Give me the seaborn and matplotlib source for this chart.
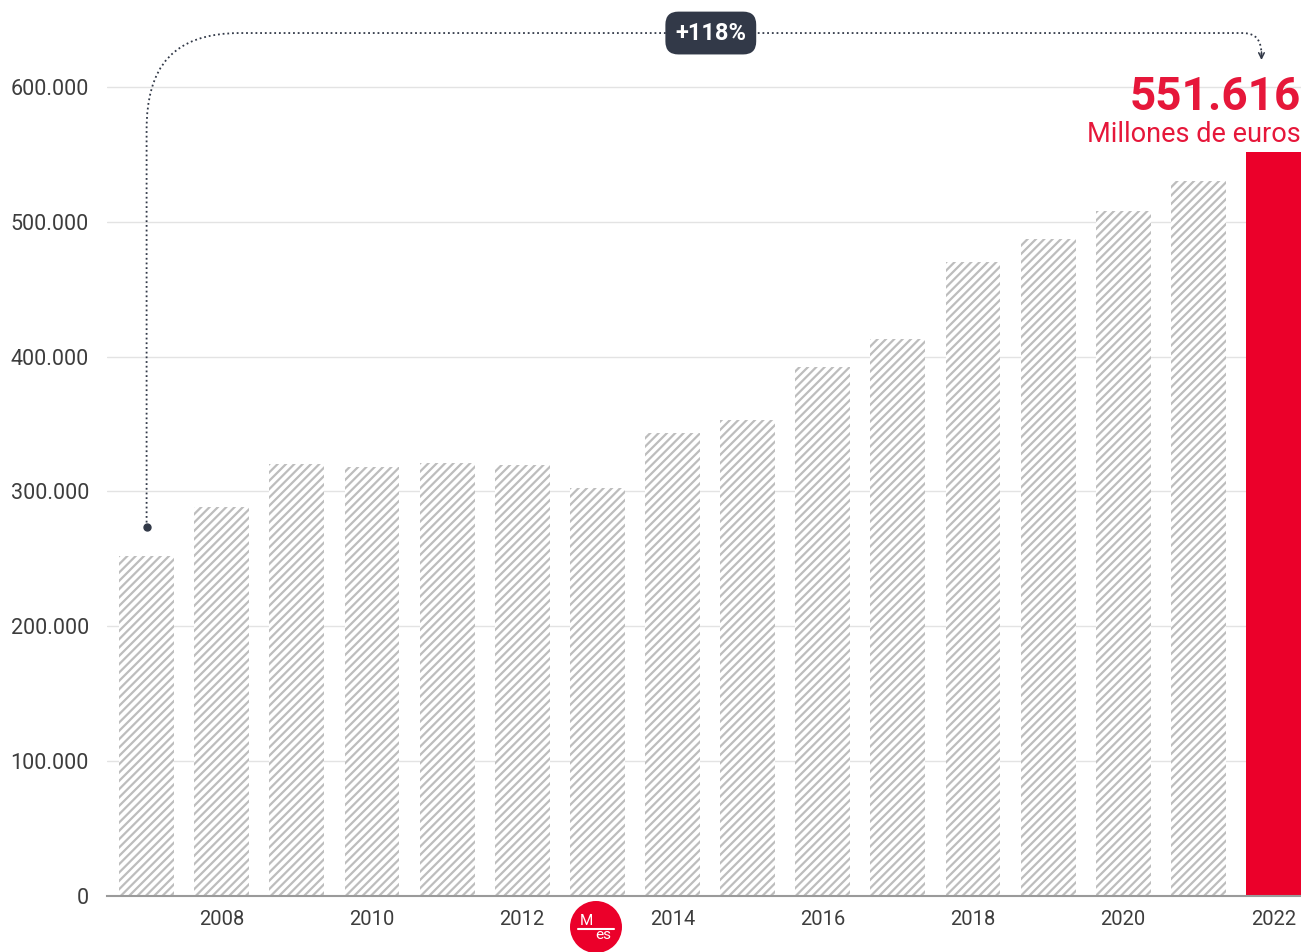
import numpy as np
import pandas as pd
import matplotlib
matplotlib.use("Agg")
import matplotlib.pyplot as plt
import seaborn as sns
from matplotlib.path import Path
from matplotlib.patches import PathPatch, Circle

# datos (millones de euros)
years = [str(y) for y in range(2007, 2023)]
values = [252000, 288500, 320500, 318500, 321000, 319800, 302800, 343500,
          353200, 392500, 413300, 470400, 487500, 508300, 530400, 551616]
yticks = [0, 100000, 200000, 300000, 400000, 500000, 600000]
growth_label = "+118%"
total_label = "551.616"
unit_label = "Millones de euros"

red = "#eb002a"
red_txt = "#e6173a"
dark = "#323948"
gray_hatch = "#bdbdbd"

sns.set_theme(style="white")
plt.rcParams['font.family'] = ['Roboto', 'DejaVu Sans']
plt.rcParams['hatch.linewidth'] = 1.6

df = pd.DataFrame({'year': years, 'value': values})

fig = plt.figure(figsize=(13.01, 9.52), dpi=100)
ax = fig.add_axes([107 / 1301, 56 / 952, 1194 / 1301, 896 / 952])

sns.barplot(data=df, x='year', y='value', order=years, color='white',
            width=0.73, edgecolor=gray_hatch, linewidth=0, saturation=1, ax=ax, zorder=2)
for i, p in enumerate(ax.patches):
    if i == len(years) - 1:
        p.set_facecolor(red)
        p.set_edgecolor(red)
        p.set_hatch(None)
    else:
        p.set_facecolor('white')
        p.set_hatch('////')

ax.set_xlim(-0.527, 15.366)
ax.set_ylim(0, 664500)
ax.set_xlabel('')
ax.set_ylabel('')

ax.set_yticks(yticks)
ax.set_yticklabels([f"{v:,.0f}".replace(',', '.') for v in yticks])
ax.set_xticks(range(1, len(years), 2))
ax.set_xticklabels(years[1::2])
ax.tick_params(axis='y', length=0, pad=13, labelsize=15.5, labelcolor='#3d3d3d')
ax.tick_params(axis='x', length=0, pad=10, labelsize=14.5, labelcolor='#3d3d3d')

for v in yticks[1:]:
    ax.axhline(v, color='#e3e3e3', lw=1, zorder=0)

for s in ['top', 'right', 'left']:
    ax.spines[s].set_visible(False)
ax.spines['bottom'].set_color('#9a9a9a')
ax.spines['bottom'].set_linewidth(1.5)
ax.spines['bottom'].set_zorder(3)

# flecha de crecimiento
y_start = values[0] + 21500
y_top = 640000
y_bend = 568000
x_end = len(years) - 1 - 0.16
verts = [(0, y_start), (0, y_bend),
         (0, 615000), (0.35, y_top), (1.25, y_top),
         (x_end - 0.25, y_top),
         (x_end - 0.08, y_top), (x_end, 635000), (x_end, 624000)]
codes = [Path.MOVETO, Path.LINETO,
         Path.CURVE4, Path.CURVE4, Path.CURVE4,
         Path.LINETO,
         Path.CURVE4, Path.CURVE4, Path.CURVE4]
ax.add_patch(PathPatch(Path(verts, codes), fill=False, edgecolor=dark, lw=1.3,
                       linestyle=(0, (1, 1.6)), clip_on=False, zorder=5))
ax.plot([0], [y_start], marker='o', ms=5, color=dark, clip_on=False, zorder=6)
ax.annotate('', xy=(x_end, 620000), xytext=(x_end, 626000),
            arrowprops=dict(arrowstyle='->', color=dark, lw=1.1,
                            mutation_scale=10, shrinkA=0, shrinkB=0),
            annotation_clip=False, zorder=6)

ax.text((len(years) - 1) / 2 + 0.01, y_top, growth_label, ha='center', va='center',
        color='white', fontsize=17, fontweight='bold', zorder=7,
        bbox=dict(boxstyle='round,pad=0.42,rounding_size=0.55', fc=dark, ec='none'))

# valor final
ax.text(1.0, 0.877, total_label, transform=ax.transAxes, ha='right', va='baseline',
        color=red_txt, fontsize=33, fontweight='bold')
ax.text(1.0, 0.841, unit_label, transform=ax.transAxes, ha='right', va='baseline',
        color=red_txt, fontsize=19.5)

# logo
cx, cy = 5.96, 0.25
fig.add_artist(Circle((cx, cy), 0.26, transform=fig.dpi_scale_trans,
                      facecolor=red, edgecolor='none'))
fig.text(cx - 0.1, cy + 0.06, 'M', transform=fig.dpi_scale_trans, ha='center',
         va='center', color='white', fontsize=11)
fig.text(cx + 0.07, cy - 0.08, 'es', transform=fig.dpi_scale_trans, ha='center',
         va='center', color='white', fontsize=11)
fig.add_artist(plt.Line2D([cx - 0.18, cx + 0.18], [cy - 0.02, cy - 0.02],
                          transform=fig.dpi_scale_trans, color='white', lw=1.5))

fig.savefig('out.png', dpi=100, facecolor='white')
